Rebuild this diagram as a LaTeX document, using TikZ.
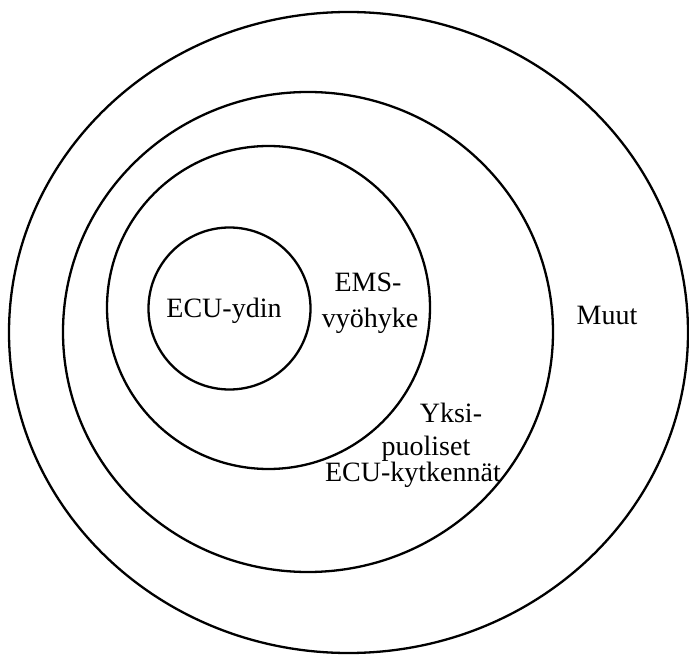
\documentclass[tikz,border=0pt]{standalone}
\usepackage{fontspec}
\setmainfont{Liberation Serif}
\usepackage{xcolor}
\usepackage{tikz}
\definecolor{ColRing}{RGB}{0,0,0}

\begin{document}
\begin{tikzpicture}[
  x=1pt, y=-1pt,
  line cap=round,
  line join=round,
  ring/.style={draw=ColRing, line width=2.3pt},
  every node/.style={font=\fontsize{28}{34}\selectfont, anchor=base, inner sep=0pt}
]
  \useasboundingbox (0,0) rectangle (689,655);

  % centres of the four zones
  \coordinate (core) at (229.5,308.5);
  \coordinate (ems)  at (268.5,307.5);
  \coordinate (uni)  at (308,332);
  \coordinate (rest) at (348.5,332.5);

  \draw[ring] (rest) ellipse (339.5 and 320.5);
  \draw[ring] (uni)  ellipse (245 and 240);
  \draw[ring] (ems)  circle (161.5);
  \draw[ring] (core) circle (81);

  % labels, one per zone (base line positions)
  \node (lblcore) at (224,318) {ECU-ydin};
  \node (lblems)  at (368,292) {EMS-};
  \node (lblvyo)  at (370,328) {vyöhyke};
  \node (lblyks)  at (451,423) {Yksi-};
  \node (lblpuo)  at (426,455) {puoliset};
  \node (lblkyt)  at (413,482) {ECU-kytkennät};
  \node (lblmuut) at (607,325) {Muut};
\end{tikzpicture}
\end{document}
